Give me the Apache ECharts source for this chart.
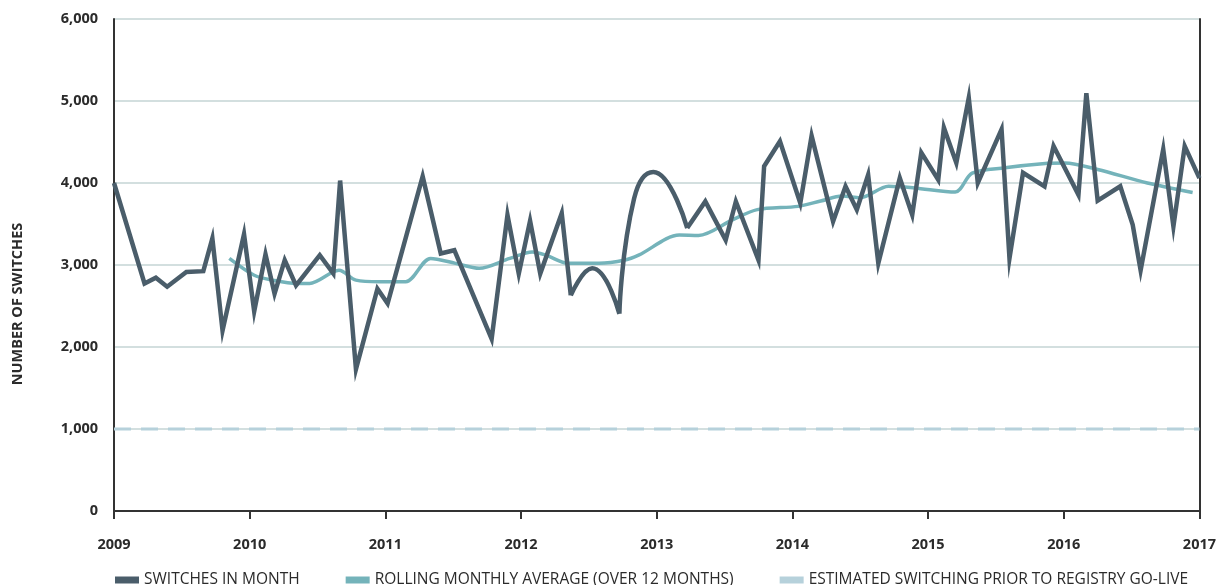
<!DOCTYPE html>
<html>
<head>
<meta charset="utf-8">
<script src="https://cdn.jsdelivr.net/npm/echarts@6/dist/echarts.min.js"></script>
<style>
html,body{margin:0;padding:0;background:#fff;}
#chart{width:1219px;height:585px;}
</style>
</head>
<body>
<div id="chart"></div>
<script>
// Months since Jan 2009 and monthly switch counts
const switchMonthsA = [0, 2.7, 3.7, 4.7, 6.4, 7.9, 8.7, 9.6, 11.5, 12.4, 13.4, 14.2, 15.1, 16.1, 18.2, 19.4, 20.0, 21.4, 23.3, 24.2, 27.3, 28.9, 30.1, 33.4, 34.8, 35.8, 36.8, 37.7, 39.6, 40.4];
const switchValuesA = [4000, 2775, 2845, 2735, 2915, 2925, 3325, 2200, 3375, 2435, 3130, 2650, 3060, 2750, 3120, 2895, 4030, 1730, 2710, 2530, 4080, 3140, 3180, 2100, 3610, 2895, 3540, 2895, 3630, 2630];
const arc1Months = [40.4, 42.3, 44.7];
const arc1Values = [2630, 2960, 2405];
const arc2Months = [44.7, 46.0, 47.7, 50.7];
const arc2Values = [2405, 3810, 4135, 3450];
const switchMonthsB = [50.7, 52.3, 54.1, 55.0, 57.0, 57.5, 58.9, 60.7, 61.7, 63.6, 64.7, 65.7, 66.7, 67.6, 69.5, 70.6, 71.4, 72.9, 73.4, 74.5, 75.6, 76.4, 78.5, 79.2, 80.4, 82.3, 83.1, 85.3, 86.0, 87.0, 89.0, 90.1, 90.8, 92.8, 93.7, 94.7, 96.0];
const switchValuesB = [3450, 3775, 3305, 3775, 3060, 4205, 4510, 3755, 4575, 3530, 3960, 3675, 4100, 3020, 4060, 3610, 4370, 4040, 4675, 4245, 5040, 4000, 4655, 3080, 4125, 3960, 4450, 3855, 5095, 3785, 3960, 3490, 2935, 4410, 3470, 4450, 4060];

// Rolling monthly average (over 12 months)
const rollingMonths = [10.2, 12.4, 14.2, 16.2, 17.3, 19.9, 21.4, 23.5, 25.8, 28.0, 30.2, 32.3, 35.0, 37.0, 38.2, 40.2, 42.9, 45.2, 46.4, 50.0, 51.7, 54.7, 56.9, 60.5, 62.5, 64.4, 66.0, 68.5, 70.8, 74.4, 75.9, 78.8, 82.6, 84.1, 87.0, 91.4, 95.4];
const rollingValues = [3080, 2875, 2810, 2775, 2775, 2935, 2815, 2795, 2795, 3080, 3020, 2960, 3080, 3160, 3120, 3020, 3020, 3060, 3120, 3365, 3360, 3550, 3675, 3715, 3780, 3840, 3820, 3960, 3940, 3890, 4120, 4185, 4240, 4245, 4165, 4000, 3885];

// Estimated switching prior to registry go-live
const estimateYears = [2009, 2017];
const estimateValues = [1000, 1000];

const yearTicks = [2009, 2010, 2011, 2012, 2013, 2014, 2015, 2016, 2017];
const legendNames = ['SWITCHES IN MONTH', 'ROLLING MONTHLY AVERAGE (OVER 12 MONTHS)', 'ESTIMATED SWITCHING PRIOR TO REGISTRY GO-LIVE'];

const toYear = m => 2009 + m / 12;
const pairs = (ms, vs) => ms.map((m, i) => [toYear(m), vs[i]]);

const straightData = pairs(switchMonthsA, switchValuesA).concat([['-', '-']], pairs(switchMonthsB, switchValuesB));
const arcData = pairs(arc1Months, arc1Values).concat([['-', '-']], pairs(arc2Months, arc2Values));

const FONT = 'Open Sans';
const C_MAIN = '#4a5d6a';
const C_ROLL = '#74b3ba';
const C_EST = '#b6d1db';

const chart = echarts.init(document.getElementById('chart'), null, {renderer: 'canvas'});
chart.setOption({
  animation: false,
  backgroundColor: '#fff',
  textStyle: {fontFamily: FONT},
  grid: {left: 114, right: 16, top: 19, bottom: 74},
  legend: {
    data: legendNames,
    left: 110, top: 567,
    icon: 'rect', itemWidth: 24, itemHeight: 7, itemGap: 46,
    textStyle: {fontFamily: FONT, fontSize: 15.5, color: '#2b2b2b'}
  },
  graphic: [{
    type: 'text', x: 18, y: 304, rotation: Math.PI / 2,
    style: {text: 'NUMBER OF SWITCHES', font: 'bold 14.5px "Open Sans"', fill: '#2b2b2b', textAlign: 'center', textVerticalAlign: 'middle'}
  }],
  xAxis: {
    type: 'value', min: yearTicks[0], max: yearTicks[yearTicks.length - 1], interval: 1,
    axisLine: {show: true, lineStyle: {color: '#333', width: 2}},
    axisTick: {show: true, length: 8, lineStyle: {color: '#333', width: 2}},
    axisLabel: {formatter: v => String(v), fontWeight: 'bold', fontSize: 14.5, color: '#2b2b2b', margin: 26, fontFamily: FONT},
    splitLine: {show: false}
  },
  yAxis: [{
    type: 'value', min: 0, max: 6000, interval: 1000,
    axisLine: {show: true, lineStyle: {color: '#333', width: 2}},
    axisTick: {show: false},
    axisLabel: {formatter: v => v.toLocaleString('en-US'), fontWeight: 'bold', fontSize: 14.5, color: '#2b2b2b', margin: 16, fontFamily: FONT},
    splitLine: {show: true, lineStyle: {color: '#d3dfdf', width: 2}}
  }, {
    type: 'value', min: 0, max: 6000, interval: 1000, position: 'right',
    axisLine: {show: true, lineStyle: {color: '#333', width: 2}},
    axisTick: {show: false}, axisLabel: {show: false}, splitLine: {show: false}
  }],
  series: [
    {
      name: legendNames[2], type: 'line', data: pairs(estimateYears.map(y => (y - 2009) * 12), estimateValues),
      showSymbol: false, symbol: 'none', color: C_EST,
      lineStyle: {color: C_EST, width: 3, type: [17, 10]}, itemStyle: {color: C_EST}, z: 1
    },
    {
      name: legendNames[1], type: 'line', data: pairs(rollingMonths, rollingValues),
      smooth: 0.3, showSymbol: false, symbol: 'none', color: C_ROLL,
      lineStyle: {color: C_ROLL, width: 3.5}, itemStyle: {color: C_ROLL}, z: 2
    },
    {
      name: legendNames[0], type: 'line', data: straightData, connectNulls: false,
      showSymbol: false, symbol: 'none', color: C_MAIN,
      lineStyle: {color: C_MAIN, width: 4.5, join: 'miter'}, itemStyle: {color: C_MAIN}, z: 3
    },
    {
      name: legendNames[0], type: 'line', data: arcData, connectNulls: false, smooth: 0.5,
      showSymbol: false, symbol: 'none', color: C_MAIN,
      lineStyle: {color: C_MAIN, width: 4.5}, itemStyle: {color: C_MAIN}, z: 3
    }
  ]
});
</script>
</body>
</html>
